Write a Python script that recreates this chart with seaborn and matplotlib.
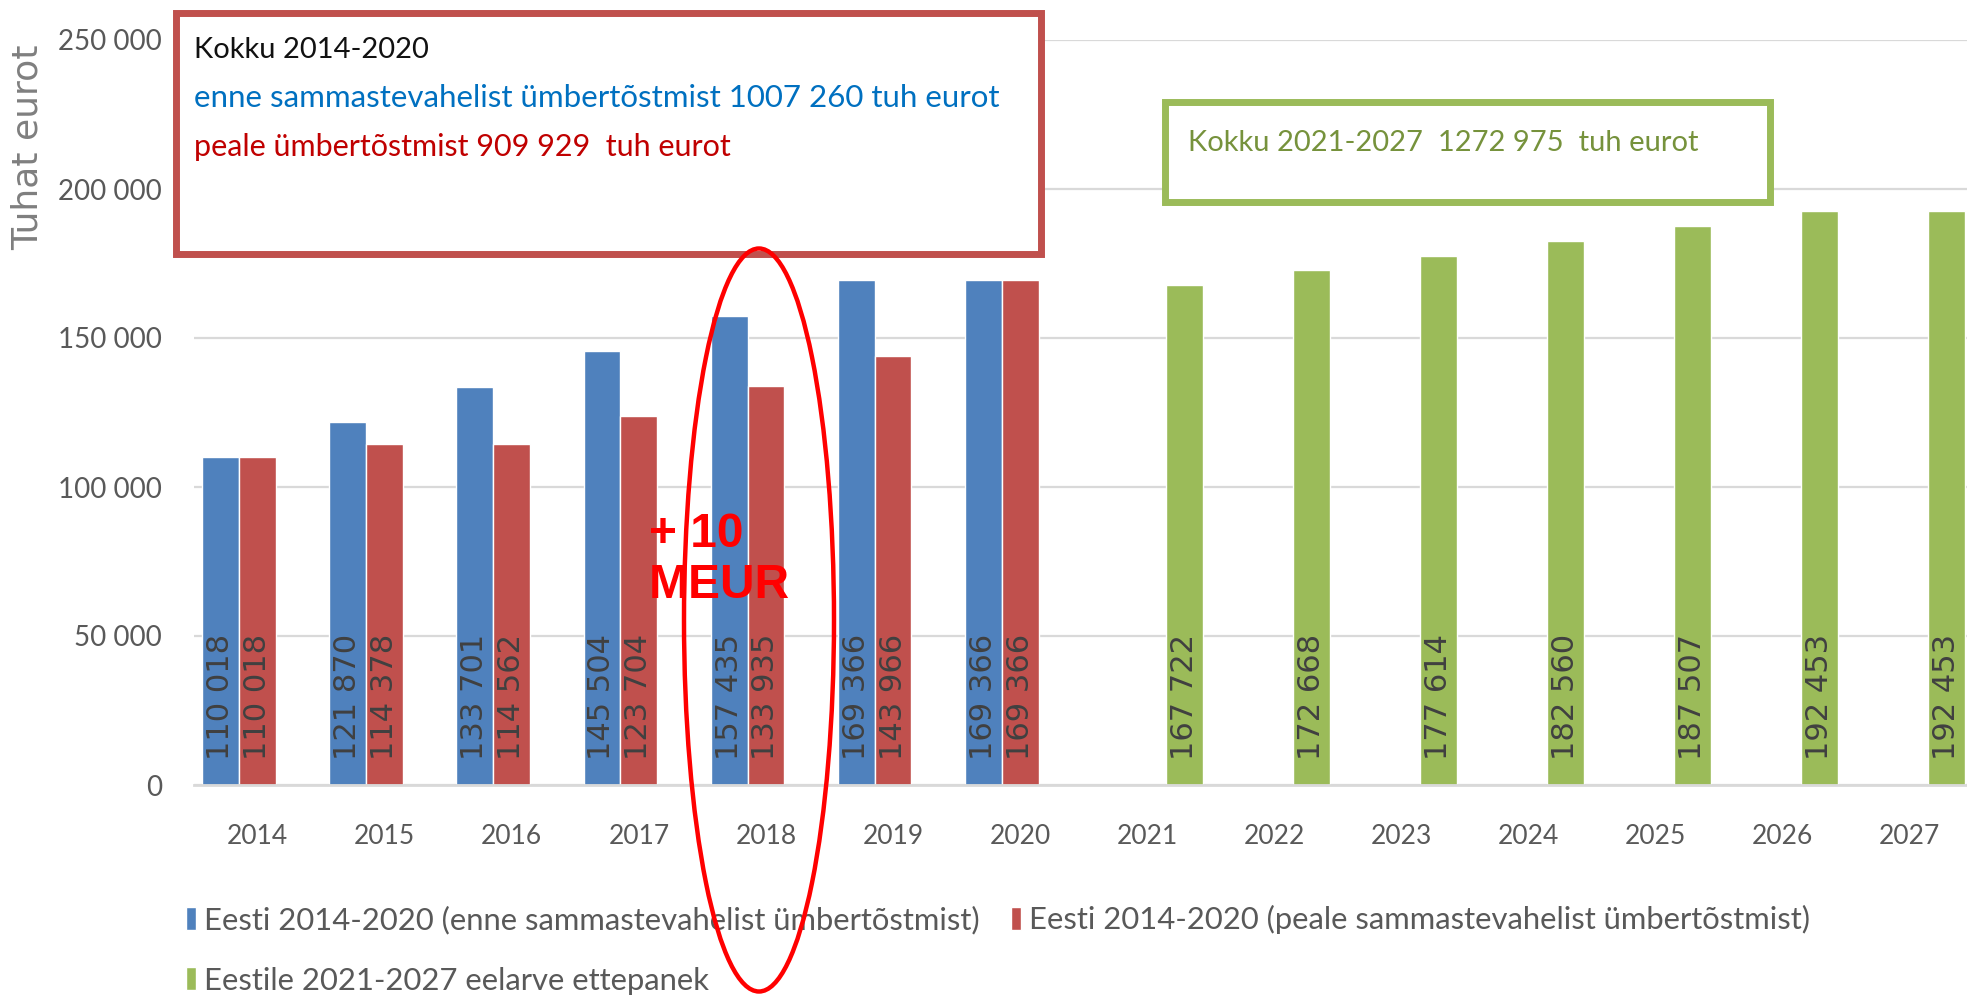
import numpy as np
import pandas as pd
import matplotlib
matplotlib.use("Agg")
import matplotlib.pyplot as plt
import seaborn as sns
from matplotlib.patches import Rectangle, Ellipse

# ---------------- data ----------------
years = [str(y) for y in range(2014, 2028)]
years_2014_2020 = years[:7]
years_2021_2027 = years[7:]
before_values = [110018, 121870, 133701, 145504, 157435, 169366, 169366]
after_values = [110018, 114378, 114562, 123704, 133935, 143966, 169366]
proposal_values = [167722, 172668, 177614, 182560, 187507, 192453, 192453]
series_names = [
    "Eesti 2014-2020 (enne sammastevahelist ümbertõstmist)",
    "Eesti 2014-2020 (peale sammastevahelist ümbertõstmist)",
    "Eestile 2021-2027 eelarve ettepanek",
]
series_colors = ["#4f81bd", "#c0504d", "#9bbb59"]
ytick_values = [0, 50000, 100000, 150000, 200000, 250000]
ytick_labels = ["0", "50 000", "100 000", "150 000", "200 000", "250 000"]

df = pd.concat([
    pd.DataFrame({"year": years_2014_2020, "value": before_values, "series": series_names[0]}),
    pd.DataFrame({"year": years_2014_2020, "value": after_values, "series": series_names[1]}),
    pd.DataFrame({"year": years_2021_2027, "value": proposal_values, "series": series_names[2]}),
], ignore_index=True)

# ---------------- style ----------------
sns.set_theme(style="white")
plt.rcParams["font.family"] = ["Lato", "DejaVu Sans"]

W, H = 1967, 999
fig = plt.figure(figsize=(W / 100, H / 100), dpi=100)
ax = fig.add_axes([194 / W, 1 - 785 / H, 1 - 194 / W, (785 - 40) / H])

sns.barplot(data=df, x="year", y="value", hue="series", order=years,
            hue_order=series_names, palette=series_colors, width=0.87,
            errorbar=None, saturation=1, ax=ax, zorder=2)

ax.set_xlim(-0.5, 13.45)
ax.set_ylim(0, 250000)
ax.set_yticks(ytick_values)
ax.set_yticklabels(ytick_labels)
ax.yaxis.grid(True, color="#d9d9d9", lw=1.6)
ax.set_axisbelow(True)
for s in ["top", "right", "left"]:
    ax.spines[s].set_visible(False)
ax.spines["bottom"].set_color("#d9d9d9")
ax.spines["bottom"].set_linewidth(2)
ax.tick_params(axis="both", length=0, labelsize=19, colors="#595959")
ax.tick_params(axis="y", pad=23, labelsize=20)
ax.tick_params(axis="x", pad=28)
ax.set_xlabel("")
ax.set_ylabel("")

fig.text(28 / W, 1 - 147 / H, "Tuhat eurot", rotation=90, ha="center", va="center",
         fontsize=26, color="#7f7f7f", family="DejaVu Sans")

# data labels at bar base
for cont in ax.containers:
    for p in cont:
        h = p.get_height()
        if np.isnan(h) or h <= 0:
            continue
        ax.annotate(f"{int(round(h)):,}".replace(",", " "),
                    xy=(p.get_x() + p.get_width() / 2, 0), xytext=(0, 18),
                    textcoords="offset points", rotation=90, ha="center", va="bottom",
                    fontsize=22, color="#404040", family="DejaVu Sans", zorder=3)

# legend
handles, labels = ax.get_legend_handles_labels()
if ax.get_legend() is not None:
    ax.get_legend().remove()
order = [0, 2, 1]
fig.legend([handles[i] for i in order], [labels[i] for i in order], ncol=2,
           loc="upper left", bbox_to_anchor=(186 / W, 1 - 905 / H), frameon=False,
           fontsize=22.3, handlelength=0.33, handleheight=0.75, handletextpad=0.25,
           columnspacing=1.0, labelspacing=1.05, borderpad=0, borderaxespad=0,
           labelcolor="#595959")

# annotation boxes
fig.add_artist(Rectangle((176 / W, 1 - 254 / H), (1041 - 176) / W, (254 - 13) / H,
                         transform=fig.transFigure, fc="white", ec="#c0504d", lw=5, zorder=5))
fig.text(194 / W, 1 - 50 / H, "Kokku 2014-2020", ha="left", va="center",
         fontsize=21, color="#111111", zorder=6)
fig.text(194 / W, 1 - 98 / H, "enne sammastevahelist ümbertõstmist 1007 260 tuh eurot",
         ha="left", va="center", fontsize=22.5, color="#0070c0", zorder=6)
fig.text(194 / W, 1 - 147 / H, "peale ümbertõstmist 909 929  tuh eurot",
         ha="left", va="center", fontsize=22, color="#c00000", zorder=6)

fig.add_artist(Rectangle((1165 / W, 1 - 202 / H), (1770 - 1165) / W, (202 - 102) / H,
                         transform=fig.transFigure, fc="white", ec="#9bbb59", lw=5, zorder=5))
fig.text(1188 / W, 1 - 143 / H, "Kokku 2021-2027  1272 975  tuh eurot", ha="left",
         va="center", fontsize=21, color="#76923c", zorder=6)

# red ellipse and note
fig.add_artist(Ellipse((759 / W, 1 - 620 / H), 150 / W, 743 / H, transform=fig.transFigure,
                       fill=False, ec="red", lw=3.2, zorder=10))
fig.text(649 / W, 1 - 560 / H, "+ 10\nMEUR", ha="left", va="center", fontsize=34.5,
         fontweight="bold", color="red", family="Liberation Sans", linespacing=1.15,
         zorder=11)

fig.savefig("out.png", dpi=100)
